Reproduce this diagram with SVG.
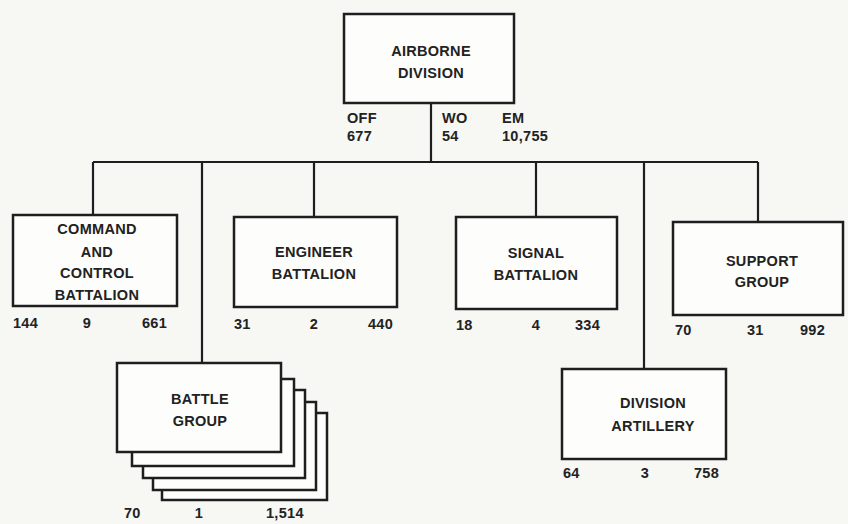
<svg xmlns="http://www.w3.org/2000/svg" width="848" height="524" viewBox="0 0 848 524">
<style>
.bx{fill:#fdfdfb;stroke:#1e1e1e;stroke-width:2.5}
.ln{stroke:#1e1e1e;stroke-width:2.2;fill:none}
text{font-family:"Liberation Sans",Arial,sans-serif;font-weight:bold;font-size:14.5px;fill:#222;letter-spacing:0.3px}
.c{text-anchor:middle}
</style>
<rect width="848" height="524" fill="#f7f7f4"/>
<g id="connectors">
<line class="ln" x1="431" y1="103" x2="431" y2="162"/>
<line class="ln" x1="93" y1="162" x2="758" y2="162"/>
<line class="ln" x1="93" y1="162" x2="93" y2="215"/>
<line class="ln" x1="202" y1="162" x2="202" y2="363"/>
<line class="ln" x1="314" y1="162" x2="314" y2="217"/>
<line class="ln" x1="536" y1="162" x2="536" y2="217"/>
<line class="ln" x1="644" y1="162" x2="644" y2="369"/>
<line class="ln" x1="758" y1="162" x2="758" y2="222"/>
</g>
<g id="airborne-division">
<rect class="bx" x="344" y="14" width="170" height="89"/>
<text class="c" x="431" y="56">AIRBORNE</text>
<text class="c" x="431" y="78">DIVISION</text>
<text x="347" y="123">OFF</text>
<text x="347" y="141">677</text>
<text x="442" y="123">WO</text>
<text x="442" y="141">54</text>
<text x="502" y="123">EM</text>
<text x="502" y="141">10,755</text>
</g>
<g id="command-control">
<rect class="bx" x="13" y="215" width="164" height="91"/>
<text class="c" x="97" y="234">COMMAND</text>
<text class="c" x="97" y="257">AND</text>
<text class="c" x="97" y="278">CONTROL</text>
<text class="c" x="97" y="300">BATTALION</text>
<text x="13" y="328">144</text>
<text class="c" x="87" y="328">9</text>
<text x="142" y="328">661</text>
</g>
<g id="engineer">
<rect class="bx" x="234" y="217" width="163" height="90"/>
<text class="c" x="314" y="257">ENGINEER</text>
<text class="c" x="314" y="279">BATTALION</text>
<text x="234" y="329">31</text>
<text class="c" x="314" y="329">2</text>
<text x="368" y="329">440</text>
</g>
<g id="signal">
<rect class="bx" x="456" y="217" width="161" height="92"/>
<text class="c" x="536" y="258">SIGNAL</text>
<text class="c" x="536" y="280">BATTALION</text>
<text x="456" y="330">18</text>
<text class="c" x="536" y="330">4</text>
<text x="575" y="330">334</text>
</g>
<g id="support">
<rect class="bx" x="673" y="222" width="170" height="93"/>
<text class="c" x="762" y="266">SUPPORT</text>
<text class="c" x="762" y="287">GROUP</text>
<text x="675" y="335">70</text>
<text x="747" y="335">31</text>
<text x="800" y="335">992</text>
</g>
<g id="battle-group">
<rect class="bx" x="162" y="413" width="165" height="87"/>
<rect class="bx" x="153" y="402" width="163" height="88"/>
<rect class="bx" x="143" y="390" width="162" height="88"/>
<rect class="bx" x="132" y="379" width="162" height="87"/>
<rect class="bx" x="117" y="363" width="164" height="89"/>
<text class="c" x="200" y="404">BATTLE</text>
<text class="c" x="200" y="426">GROUP</text>
<text x="124" y="518">70</text>
<text class="c" x="199" y="518">1</text>
<text x="266" y="518">1,514</text>
</g>
<g id="division-artillery">
<rect class="bx" x="562" y="369" width="164" height="90"/>
<text class="c" x="653" y="408">DIVISION</text>
<text class="c" x="653" y="431">ARTILLERY</text>
<text x="563" y="478">64</text>
<text class="c" x="645" y="478">3</text>
<text x="694" y="478">758</text>
</g>
</svg>
